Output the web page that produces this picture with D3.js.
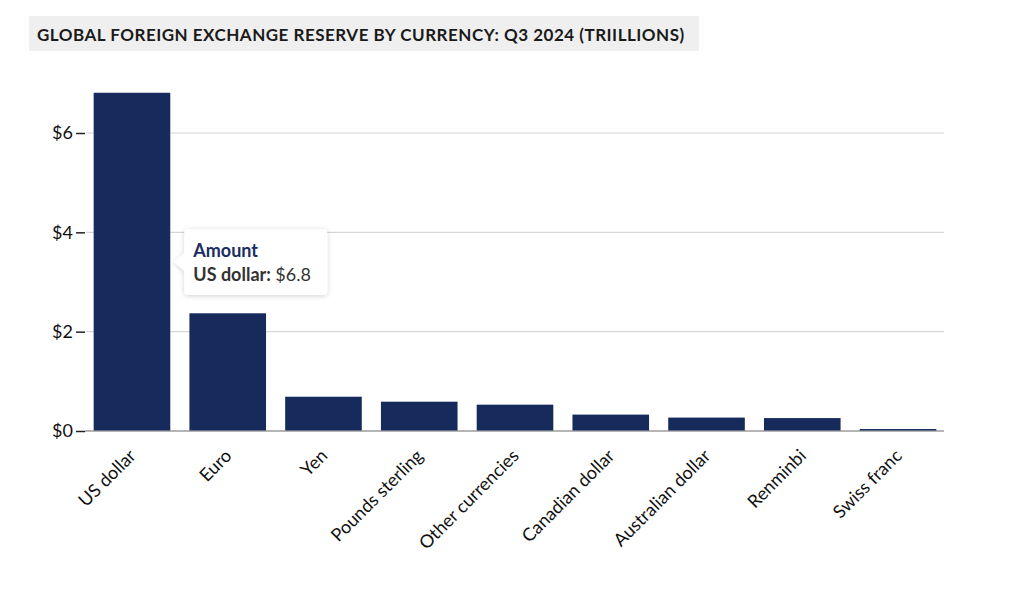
<!DOCTYPE html>
<html>
<head>
<meta charset="utf-8">
<script src="https://cdnjs.cloudflare.com/ajax/libs/d3/7.8.5/d3.min.js"></script>
<style>
  body { margin: 0; background: #fff; font-family: Lato, "Open Sans", sans-serif; }
  svg text { font-family: Lato, "Open Sans", sans-serif; }
</style>
</head>
<body>
<div id="chart"></div>
<script>
// data (trillions of USD)
var currencies = ["US dollar", "Euro", "Yen", "Pounds sterling", "Other currencies",
                  "Canadian dollar", "Australian dollar", "Renminbi", "Swiss franc"];
var amounts = [6.8, 2.36, 0.68, 0.58, 0.52, 0.32, 0.26, 0.25, 0.03];
var yTicks = [0, 2, 4, 6];
var titleText = "GLOBAL FOREIGN EXCHANGE RESERVE BY CURRENCY: Q3 2024 (TRIILLIONS)";

var width = 1024, height = 591;

var svg = d3.select("#chart").append("svg")
    .attr("width", width)
    .attr("height", height);

// title box
var titleG = svg.append("g");
titleG.append("rect")
    .attr("x", 29).attr("y", 16)
    .attr("width", 670).attr("height", 35)
    .attr("fill", "#efefef");
titleG.append("text")
    .attr("x", 37).attr("y", 41)
    .attr("font-size", 17)
    .attr("font-weight", 700)
    .attr("letter-spacing", "0.5px")
    .attr("fill", "#1a1a1a")
    .text(titleText);

var x = d3.scaleBand()
    .domain(currencies)
    .range([86, 944])
    .paddingInner(0.2)
    .paddingOuter(0.08);

var y = d3.scaleLinear()
    .domain([0, 6])
    .range([431, 133]);

// gridlines
svg.append("g").selectAll("line")
    .data(yTicks.filter(function (d) { return d > 0; }))
    .enter().append("line")
    .attr("x1", 86).attr("x2", 944)
    .attr("y1", function (d) { return y(d); })
    .attr("y2", function (d) { return y(d); })
    .attr("stroke", "#d6d6d6")
    .attr("stroke-width", 1.2);

// y axis
var yAxis = d3.axisLeft(y)
    .tickValues(yTicks)
    .tickSize(9)
    .tickPadding(3)
    .tickFormat(function (d) { return "$" + d; });

var yG = svg.append("g")
    .attr("transform", "translate(85,0)")
    .call(yAxis);
yG.select(".domain").remove();
yG.selectAll(".tick line").attr("stroke", "#222").attr("stroke-width", 1.5);
yG.selectAll(".tick text")
    .attr("font-size", 18)
    .attr("fill", "#111");

// baseline
svg.append("line")
    .attr("x1", 85).attr("x2", 944)
    .attr("y1", y(0)).attr("y2", y(0))
    .attr("stroke", "#b5b5b5")
    .attr("stroke-width", 2);

// bars
svg.append("g").selectAll("rect")
    .data(currencies)
    .enter().append("rect")
    .attr("x", function (d) { return x(d); })
    .attr("width", x.bandwidth())
    .attr("y", function (d, i) { return y(amounts[i]) - 0.5; })
    .attr("height", function (d, i) { return y(0) - y(amounts[i]); })
    .attr("fill", "#162a5c");

// x labels, rotated
svg.append("g").selectAll("text")
    .data(currencies)
    .enter().append("text")
    .attr("transform", function (d) {
        return "translate(" + (x(d) + x.bandwidth() / 2 + 5) + "," + (y(0) + 26) + ") rotate(-45)";
    })
    .attr("text-anchor", "end")
    .attr("font-size", 18)
    .attr("fill", "#111")
    .text(function (d) { return d; });

// tooltip
var defs = svg.append("defs");
var filt = defs.append("filter").attr("id", "shadow")
    .attr("x", "-20%").attr("y", "-30%").attr("width", "140%").attr("height", "160%");
filt.append("feDropShadow")
    .attr("dx", 0).attr("dy", 1)
    .attr("stdDeviation", 2.5)
    .attr("flood-color", "#000")
    .attr("flood-opacity", 0.18);

var tipX = x(currencies[0]) + x.bandwidth() + 14;
var tipY = 229;
var tip = svg.append("g").attr("transform", "translate(" + tipX + "," + tipY + ")");
tip.append("path")
    .attr("d", "M4,0 H139 Q143,0 143,4 V62 Q143,66 139,66 H4 Q0,66 0,62 V42 L-10,33 L0,24 V4 Q0,0 4,0 Z")
    .attr("fill", "#fff")
    .attr("filter", "url(#shadow)");
tip.append("text")
    .attr("x", 9).attr("y", 28)
    .attr("font-size", 18)
    .attr("font-weight", 700)
    .attr("fill", "#1b2d63")
    .text("Amount");
var line2 = tip.append("text")
    .attr("x", 9).attr("y", 52)
    .attr("font-size", 18)
    .attr("fill", "#333");
line2.append("tspan").attr("font-weight", 700).text(currencies[0] + ": ");
line2.append("tspan").text("$" + amounts[0]);
</script>
</body>
</html>
